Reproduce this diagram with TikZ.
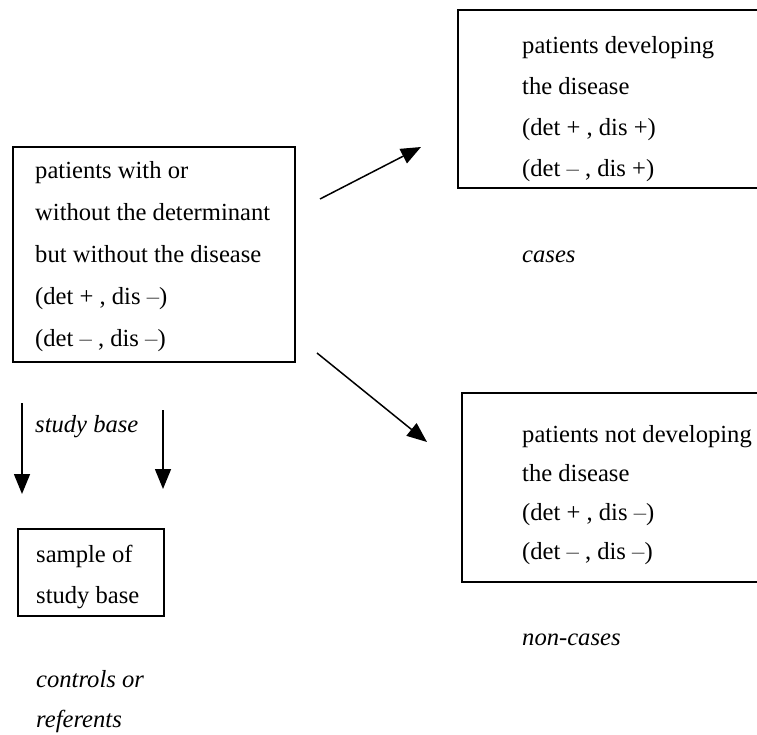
\documentclass[tikz,border=0pt]{standalone}
\usepackage{fontspec}
\setmainfont{Liberation Serif}
\usetikzlibrary{arrows.meta}
\newcommand{\mn}{\textcolor{black!60}{--}}
\newcommand{\drawthick}{\draw[line width=1.5pt]}
\newcommand{\linesat}[4]{
    \foreach \t [count=\i] in {#4}{
    \node[txt] (#1\i) at (#2,{#3}) [yshift={-(\i-1)*\gap}] {\t};
    }
}
\tikzset{
  txt/.style={anchor=base west,inner sep=0pt,font=\fontsize{24.6}{30}\selectfont},
  lbl/.style={txt,font=\fontsize{24.6}{30}\selectfont\itshape},
  flow/.style={line width=1.5pt,-{Triangle[length=20pt,width=16pt]}}
}
\begin{document}
\begin{tikzpicture}[x=1pt,y=-1pt]
\useasboundingbox (0,0) rectangle (757,734);
% boxes
\drawthick (13,147) rectangle (295,362);
\drawthick (757,10) -- (458,10) -- (458,188) -- (757,188);
\drawthick (757,393) -- (462,393) -- (462,582) -- (757,582);
\drawthick (18,529) rectangle (164,616);
% texts
\def\gap{42.2pt}
\linesat{base}{35}{178}{patients with or,without the determinant,but without the disease,{(det + , dis \mn)},{(det \mn\ , dis \mn)}}
\def\gap{41pt}
\linesat{cases}{522}{53}{patients developing,the disease,{(det + , dis +)},{(det \mn\ , dis +)}}
\def\gap{39pt}
\linesat{noncases}{522}{442}{patients not developing,the disease,{(det + , dis \mn)},{(det \mn\ , dis \mn)}}
\def\gap{41pt}
\linesat{sample}{36}{562}{sample of,study base}
\node[lbl] (studybase) at (35,432) {study base};
\node[lbl] (caseslbl) at (522,262) {cases};
\node[lbl] (noncaseslbl) at (522,645) {non-cases};
\node[lbl] (controls1) at (36,687) {controls or};
\node[lbl] (controls2) at (36,727) {referents};
% arrows
\coordinate (upfrom) at (320,199);
\coordinate (upto) at (421,147);
\coordinate (downfrom) at (317,353);
\coordinate (downto) at (427,442);
\coordinate (leftfrom) at (22,403);
\coordinate (leftto) at (22,494);
\coordinate (rightfrom) at (163,410);
\coordinate (rightto) at (163,489);
\draw[flow] (upfrom) -- (upto);
\draw[flow] (downfrom) -- (downto);
\draw[flow] (leftfrom) -- (leftto);
\draw[flow] (rightfrom) -- (rightto);
\end{tikzpicture}
\end{document}
